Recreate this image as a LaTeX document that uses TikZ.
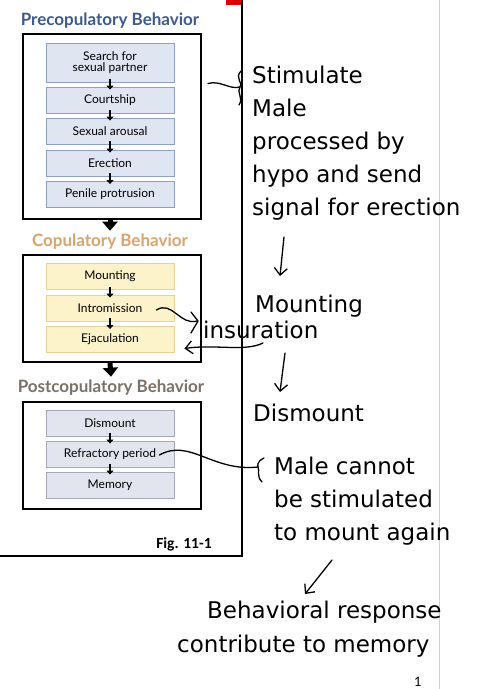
\documentclass[tikz,border=0pt]{standalone}
\usepackage{fontspec}
\newfontfamily\figfont{Lato}
\newfontfamily\capfont{Carlito}
\newfontfamily\inkfont{DejaVu Sans}
\usetikzlibrary{calc}
\usetikzlibrary{positioning}
\usetikzlibrary{arrows.meta}

\definecolor{pretitle}{RGB}{62,90,143}
\definecolor{prefill}{RGB}{223,229,241}
\definecolor{preedge}{RGB}{142,159,194}
\definecolor{coptitle}{RGB}{217,164,110}
\definecolor{copfill}{RGB}{253,243,203}
\definecolor{copedge}{RGB}{235,207,149}
\definecolor{posttitle}{RGB}{125,112,104}
\definecolor{postfill}{RGB}{226,229,238}
\definecolor{postedge}{RGB}{163,167,184}

\begin{document}
\begin{tikzpicture}[
    x=1pt, y=-1pt,
    % Define the style for the boxes of each stage
    stagebox/.style={rectangle, minimum width=128pt, minimum height=26pt, inner sep=1pt,
        align=center, line width=0.9pt, font=\figfont\fontsize{12}{12}\selectfont},
    prebox/.style={stagebox, draw=preedge, fill=prefill},
    copbox/.style={stagebox, draw=copedge, fill=copfill},
    postbox/.style={stagebox, draw=postedge, fill=postfill},
    % Define the frame round each stage and its title
    stageframe/.style={draw, line width=2pt, minimum width=178pt, minimum height=107pt},
    stagetitle/.style={font=\figfont\bfseries\fontsize{17}{18}\selectfont},
    % Define the arrows
    smallarrow/.style={-{Triangle[width=7pt,length=4pt]}, line width=2pt,
        shorten <=-3pt, shorten >=-3pt},
    bigarrow/.style={-{Triangle[width=15pt,length=9pt]}, line width=5pt},
    % Define the handwritten notes
    inknote/.style={anchor=west, inner sep=0pt, align=left,
        font=\inkfont\fontsize{23}{33}\selectfont},
    inkline/.style={line width=1.3pt, line cap=round, line join=round},
    inkarrow/.style={inkline, -{Straight Barb[length=7pt,width=13pt]}}
]

    \useasboundingbox (0,0) rectangle (497,689);

    % --- Page ---
    \fill[white] (0,0) rectangle (497,689);
    \draw[gray!35, line width=0.6pt] (439,0) -- (439,689);
    \fill[red!85!black] (226,0) rectangle (242,5);
    \draw[line width=1.6pt] (0,556) -- (242,556) -- (242,0);
    \node[font=\capfont\bfseries\fontsize{15.5}{16}\selectfont] (figlabel) at (184,544) {Fig. 11-1};
    \node[font=\figfont\fontsize{13}{13}\selectfont] (pagenum) at (418,682) {1};

    % --- Precopulatory Behavior ---
    \node[stagetitle, text=pretitle] (pretitle) at (110,21) {Precopulatory Behavior};
    \node[stageframe, minimum height=185pt] (preframe) at (112,126) {};
    \node[prebox, minimum height=39pt] (search) at (110,62.5) {Search for\\[-1pt]sexual partner};
    \foreach \name/\ypos/\txt in {court/100/Courtship, arousal/131/Sexual arousal,
                                  erect/163/Erection, protr/194.5/Penile protrusion} {
        \node[prebox] (\name) at (110,\ypos) {\txt};
    }
    \draw[smallarrow] (search) -- (court);
    \draw[smallarrow] (court) -- (arousal);
    \draw[smallarrow] (arousal) -- (erect);
    \draw[smallarrow] (erect) -- (protr);

    % --- Copulatory Behavior ---
    \node[stagetitle, text=coptitle] (coptitle) at (110,242) {Copulatory Behavior};
    \draw[bigarrow] (preframe.south -| protr.south) -- (coptitle.north);
    \node[stageframe] (copframe) at (112,308.5) {};
    \foreach \name/\ypos/\txt in {mount/276.5/Mounting, intro/308/Intromission,
                                  ejac/339.5/Ejaculation} {
        \node[copbox] (\name) at (110,\ypos) {\txt};
    }
    \draw[smallarrow] (mount) -- (intro);
    \draw[smallarrow] (intro) -- (ejac);

    % --- Postcopulatory Behavior ---
    \node[stagetitle, text=posttitle] (posttitle) at (111,388) {Postcopulatory Behavior};
    \draw[bigarrow] (copframe.south -| ejac.south) -- (posttitle.north);
    \node[stageframe] (postframe) at (112,455) {};
    \foreach \name/\ypos/\txt in {dismount/423/Dismount, refr/454/Refractory period,
                                  memory/485/Memory} {
        \node[postbox] (\name) at (110,\ypos) {\txt};
    }
    \draw[smallarrow] (dismount) -- (refr);
    \draw[smallarrow] (refr) -- (memory);

    % --- Handwritten notes ---
    \node[inknote, anchor=north west] (stimnote) at (252,66)
        {Stimulate\\Male\\processed by\\hypo and send\\signal for erection};
    \coordinate (stimbrace) at (240,87);
    \draw[inkline] ($(preframe.north east)+(6,51)$) .. controls (220,80) and (230,90) .. (stimbrace);
    \draw[inkline] (241,71) .. controls (234,78) and (244,84) .. (stimbrace)
        .. controls (236,92) and (244,98) .. (239,105);

    \node[inknote] (mountnote) at (255,306) {Mounting};
    \draw[inkarrow] ($(mountnote.west)+(29,-69)$) -- ($(mountnote.west)+(25,-30)$);

    \node[inknote] (insnote) at (203,330) {insuration};
    \draw[inkline] ($(intro.east)+(-18,2)$) .. controls (172,300) and (180,326) .. (197,321);
    \draw[inkline] (191,312) -- (198,321) -- (191,333);
    \draw[inkarrow] ($(insnote.west)+(60,13)$) .. controls (245,352) and (215,344) .. ($(ejac.east)+(10,9)$);

    \node[inknote] (dismountnote) at (253,413) {Dismount};
    \draw[inkarrow] ($(dismountnote.west)+(32,-60)$) -- ($(dismountnote.west)+(27,-21)$);

    \node[inknote, anchor=north west] (malenote) at (274,457)
        {Male cannot\\be stimulated\\to mount again};
    \coordinate (refrbrace) at (258,467);
    \draw[inkline] ($(refr.east)+(-15,1)$) .. controls (190,438) and (212,472) .. (refrbrace);
    \draw[inkline] (264,458) .. controls (256,462) and (258,466) .. (refrbrace)
        .. controls (260,470) and (256,476) .. (262,482);

    \node[inknote] (behavnote) at (207,612) {Behavioral response};
    \node[inknote] (contribnote) at (177,646) {contribute to memory};
    \draw[inkarrow] ($(behavnote.west)+(125,-52)$) -- ($(behavnote.west)+(98,-18)$);

\end{tikzpicture}
\end{document}
